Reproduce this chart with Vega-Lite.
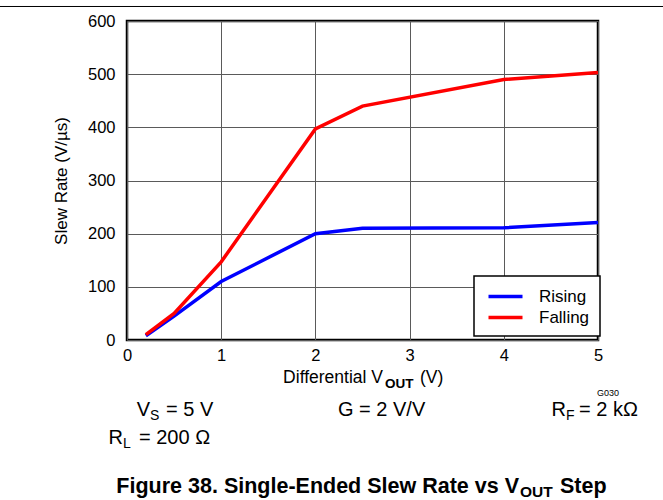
{
  "$schema": "https://vega.github.io/schema/vega-lite/v6.json",
  "width": 471,
  "height": 319,
  "autosize": {"type": "none"},
  "padding": {"left": 127, "top": 21, "right": 65, "bottom": 160},
  "background": "white",
  "config": {
    "font": "Liberation Sans",
    "view": {"stroke": "black", "strokeWidth": 2.5},
    "text": {"font": "Liberation Sans", "color": "black"}
  },
  "datasets": {
    "one": [{"k": 1}]
  },
  "data": {
    "values": [
      {"series": "Rising", "vout": 0.2, "slew": 8},
      {"series": "Rising", "vout": 0.5, "slew": 45},
      {"series": "Rising", "vout": 1.0, "slew": 110},
      {"series": "Rising", "vout": 2.0, "slew": 200},
      {"series": "Rising", "vout": 2.5, "slew": 210},
      {"series": "Rising", "vout": 4.0, "slew": 211},
      {"series": "Rising", "vout": 5.0, "slew": 221},
      {"series": "Falling", "vout": 0.2, "slew": 10},
      {"series": "Falling", "vout": 0.5, "slew": 50},
      {"series": "Falling", "vout": 1.0, "slew": 147},
      {"series": "Falling", "vout": 2.0, "slew": 397},
      {"series": "Falling", "vout": 2.5, "slew": 440},
      {"series": "Falling", "vout": 4.0, "slew": 490},
      {"series": "Falling", "vout": 5.0, "slew": 503}
    ]
  },
  "layer": [
    {
      "mark": {"type": "line", "strokeWidth": 3.5, "clip": false},
      "encoding": {
        "x": {
          "field": "vout", "type": "quantitative",
          "scale": {"domain": [0, 5], "nice": false, "zero": false},
          "axis": {
            "values": [0, 1, 2, 3, 4, 5], "format": "d", "title": null, "ticks": false, "domain": false,
            "labelFontSize": 16.5, "labelColor": "black", "labelPadding": 7,
            "gridColor": "#5a5a5a", "gridWidth": 1, "gridOpacity": 1, "labelFlush": false
          }
        },
        "y": {
          "field": "slew", "type": "quantitative",
          "scale": {"domain": [0, 600], "nice": false},
          "axis": {
            "values": [0, 100, 200, 300, 400, 500, 600], "format": "d", "title": "Slew Rate (V/µs)",
            "titleFontSize": 17, "titleFontWeight": "normal", "titleColor": "black", "titlePadding": 17,
            "ticks": false, "domain": false,
            "labelFontSize": 16.5, "labelColor": "black", "labelPadding": 12,
            "gridColor": "#5a5a5a", "gridWidth": 1, "gridOpacity": 1, "labelFlush": false
          }
        },
        "color": {
          "field": "series", "type": "nominal",
          "scale": {"domain": ["Rising", "Falling"], "range": ["#0000FF", "#FF0000"]},
          "legend": {
            "title": null, "orient": "none", "legendX": 347, "legendY": 255,
            "fillColor": "white", "strokeColor": "black", "padding": 10,
            "symbolType": "M-2,0H2", "symbolSize": 289, "symbolStrokeWidth": 3.5, "symbolOffset": 11,
            "labelFontSize": 17, "labelColor": "black", "labelOffset": 23, "rowPadding": 2,
            "encode": {"legend": {"update": {"strokeWidth": {"value": 1.5}}}}
          }
        }
      }
    },
    {
      "data": {"name": "one"},
      "mark": {"type": "rule", "stroke": "black", "strokeWidth": 1},
      "encoding": {"x": {"datum": -1.36}, "x2": {"datum": 5.7}, "y": {"datum": 627.3}}
    },
    {
      "data": {"name": "one"},
      "mark": {"type": "text", "fontSize": 17.5, "align": "right", "baseline": "alphabetic"},
      "encoding": {"x": {"datum": 2.7176}, "y": {"datum": -80.9}, "text": {"value": "Differential V"}}
    },
    {
      "data": {"name": "one"},
      "mark": {"type": "text", "fontSize": 13.5, "fontWeight": "bold", "align": "left", "baseline": "alphabetic"},
      "encoding": {"x": {"datum": 2.7389}, "y": {"datum": -90.3}, "text": {"value": "OUT"}}
    },
    {
      "data": {"name": "one"},
      "mark": {"type": "text", "fontSize": 17.5, "align": "left", "baseline": "alphabetic"},
      "encoding": {"x": {"datum": 3.1104}, "y": {"datum": -80.9}, "text": {"value": "(V)"}}
    },
    {
      "data": {"name": "one"},
      "mark": {"type": "text", "fontSize": 9, "align": "left", "baseline": "alphabetic"},
      "encoding": {"x": {"datum": 4.9894}, "y": {"datum": -105.3}, "text": {"value": "G030"}}
    },
    {
      "data": {"name": "one"},
      "mark": {"type": "text", "fontSize": 20, "align": "right", "baseline": "alphabetic"},
      "encoding": {"x": {"datum": 0.2442}, "y": {"datum": -143}, "text": {"value": "V"}}
    },
    {
      "data": {"name": "one"},
      "mark": {"type": "text", "fontSize": 14, "align": "left", "baseline": "alphabetic"},
      "encoding": {"x": {"datum": 0.2442}, "y": {"datum": -150.5}, "text": {"value": "S"}}
    },
    {
      "data": {"name": "one"},
      "mark": {"type": "text", "fontSize": 20, "align": "left", "baseline": "alphabetic"},
      "encoding": {"x": {"datum": 0.414}, "y": {"datum": -143}, "text": {"value": "= 5 V"}}
    },
    {
      "data": {"name": "one"},
      "mark": {"type": "text", "fontSize": 20, "align": "right", "baseline": "alphabetic"},
      "encoding": {"x": {"datum": -0.0425}, "y": {"datum": -195.6}, "text": {"value": "R"}}
    },
    {
      "data": {"name": "one"},
      "mark": {"type": "text", "fontSize": 14, "align": "left", "baseline": "alphabetic"},
      "encoding": {"x": {"datum": -0.0425}, "y": {"datum": -203.1}, "text": {"value": "L"}}
    },
    {
      "data": {"name": "one"},
      "mark": {"type": "text", "fontSize": 20, "align": "left", "baseline": "alphabetic"},
      "encoding": {"x": {"datum": 0.1274}, "y": {"datum": -195.6}, "text": {"value": "= 200 Ω"}}
    },
    {
      "data": {"name": "one"},
      "mark": {"type": "text", "fontSize": 20, "align": "left", "baseline": "alphabetic"},
      "encoding": {"x": {"datum": 2.2399}, "y": {"datum": -143}, "text": {"value": "G = 2 V/V"}}
    },
    {
      "data": {"name": "one"},
      "mark": {"type": "text", "fontSize": 20, "align": "right", "baseline": "alphabetic"},
      "encoding": {"x": {"datum": 4.6603}, "y": {"datum": -143}, "text": {"value": "R"}}
    },
    {
      "data": {"name": "one"},
      "mark": {"type": "text", "fontSize": 14, "align": "left", "baseline": "alphabetic"},
      "encoding": {"x": {"datum": 4.6603}, "y": {"datum": -150.5}, "text": {"value": "F"}}
    },
    {
      "data": {"name": "one"},
      "mark": {"type": "text", "fontSize": 20, "align": "left", "baseline": "alphabetic"},
      "encoding": {"x": {"datum": 4.7983}, "y": {"datum": -143}, "text": {"value": "= 2 kΩ"}}
    },
    {
      "data": {"name": "one"},
      "mark": {"type": "text", "fontSize": 21.5, "fontWeight": "bold", "align": "right", "baseline": "alphabetic"},
      "encoding": {"x": {"datum": 4.1614}, "y": {"datum": -287.8}, "text": {"value": "Figure 38. Single-Ended Slew Rate vs V"}}
    },
    {
      "data": {"name": "one"},
      "mark": {"type": "text", "fontSize": 15.5, "fontWeight": "bold", "align": "left", "baseline": "alphabetic"},
      "encoding": {"x": {"datum": 4.172}, "y": {"datum": -295.3}, "text": {"value": "OUT"}}
    },
    {
      "data": {"name": "one"},
      "mark": {"type": "text", "fontSize": 21.5, "fontWeight": "bold", "align": "left", "baseline": "alphabetic"},
      "encoding": {"x": {"datum": 4.5966}, "y": {"datum": -287.8}, "text": {"value": "Step"}}
    }
  ]
}
